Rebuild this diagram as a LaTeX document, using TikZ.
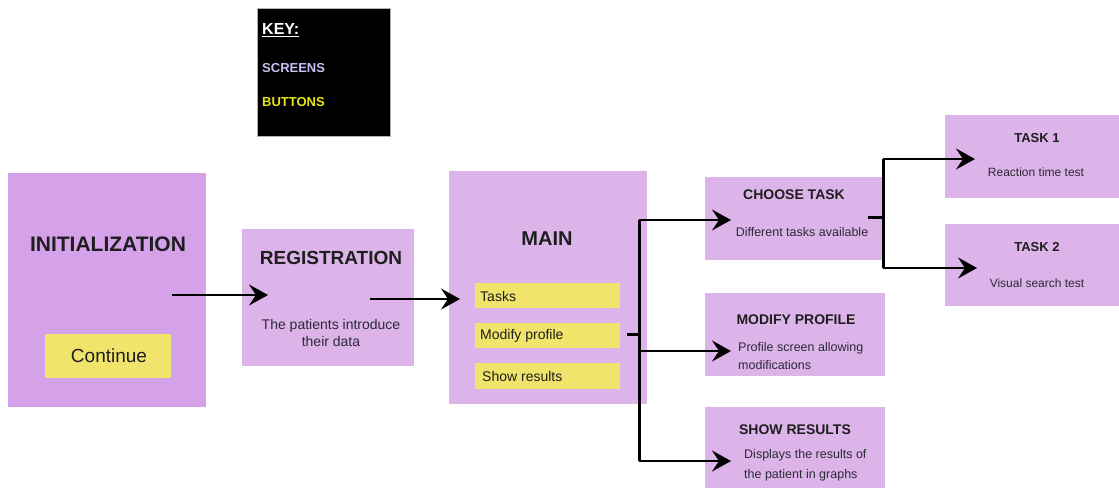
\documentclass[tikz,border=0pt]{standalone}
\usepackage{fontspec}
\setmainfont{Liberation Sans}
\usetikzlibrary{arrows.meta}

\definecolor{screenA}{HTML}{D5A1E8}
\definecolor{screenB}{HTML}{DDB4E9}
\definecolor{btnfill}{HTML}{F0E46B}
\definecolor{keyscreen}{HTML}{C9BDF2}
\definecolor{keybtn}{HTML}{E8E410}
\definecolor{titletxt}{HTML}{1E1E1E}
\definecolor{bodytxt}{HTML}{2A2A36}

\tikzset{
  screen/.style={fill=screenB, draw=none, inner sep=0pt, outer sep=0pt, anchor=north west},
  button/.style={fill=btnfill, draw=none, inner sep=0pt, outer sep=0pt, anchor=north west},
  bigtitle/.style={inner sep=0pt, text=titletxt, font=\fontsize{21}{24}\selectfont\bfseries},
  midtitle/.style={inner sep=0pt, text=titletxt, font=\fontsize{19}{22}\selectfont\bfseries},
  smalltitle/.style={inner sep=0pt, text=titletxt, font=\fontsize{14}{16}\selectfont\bfseries},
  bodytext/.style={inner sep=0pt, text=bodytxt, font=\fontsize{12.5}{18}\selectfont},
  btntext/.style={inner sep=0pt, text=titletxt, font=\fontsize{14}{16}\selectfont, anchor=west},
  keytext/.style={inner sep=0pt, anchor=west, font=\fontsize{13}{15}\selectfont\bfseries},
  conn/.style={line width=2pt, -{Stealth[length=19pt,width=21pt,inset=7pt]}},
  bus/.style={line width=3pt},
}

\begin{document}
\begin{tikzpicture}[x=1pt, y=-1pt]
  \useasboundingbox (0,0) rectangle (1119,488);

  % legend
  \node[fill=black, draw=gray!60, line width=0.6pt, inner sep=0pt, anchor=north west,
        minimum width=133pt, minimum height=128pt] (key) at (257,8) {};
  \node[keytext, text=white, font=\fontsize{16}{18}\selectfont\bfseries] (keyhead) at (262,30) {\underline{KEY:}};
  \node[keytext, text=keyscreen] (keyscr) at (262,68) {SCREENS};
  \node[keytext, text=keybtn] (keybtn) at (262,102) {BUTTONS};

  % screens
  \node[screen, fill=screenA, minimum width=198pt, minimum height=234pt] (init) at (8,173) {};
  \node[screen, minimum width=172pt, minimum height=137pt] (reg) at (242,229) {};
  \node[screen, minimum width=198pt, minimum height=233pt] (main) at (449,171) {};
  \node[screen, minimum width=180pt, minimum height=83pt] (choose) at (705,177) {};
  \node[screen, minimum width=180pt, minimum height=83pt] (modify) at (705,293) {};
  \node[screen, minimum width=180pt, minimum height=81pt] (show) at (705,407) {};
  \node[screen, minimum width=174pt, minimum height=83pt] (task1) at (945,115) {};
  \node[screen, minimum width=174pt, minimum height=82pt] (task2) at (945,224) {};

  % buttons
  \node[button, minimum width=126pt, minimum height=44pt] (cont) at (45,334) {};
  \node[button, minimum width=145pt, minimum height=25pt] (btask) at (475,283) {};
  \node[button, minimum width=145pt, minimum height=25pt] (bmod) at (475,323) {};
  \node[button, minimum width=145pt, minimum height=26pt] (bshow) at (475,363) {};

  % screen texts
  \node[bigtitle] (initT) at (108,244) {INITIALIZATION};
  \node[inner sep=0pt, text=titletxt, font=\fontsize{19}{22}\selectfont] (contT) at (109,356) {Continue};

  \node[midtitle] (regT) at (331,258) {REGISTRATION};
  \node[bodytext, font=\fontsize{14}{17}\selectfont, align=center] (regB) at (331,332.5)
       {The patients introduce\\their data};

  \node[bigtitle, font=\fontsize{20}{24}\selectfont\bfseries] (mainT) at (547,239) {MAIN};
  \node[btntext] (btaskT) at (480,296) {Tasks};
  \node[btntext] (bmodT) at (480,335.5) {Modify profile};
  \node[btntext] (bshowT) at (482,376) {Show results};

  \node[smalltitle] (chooseT) at (794,195) {CHOOSE TASK};
  \node[bodytext] (chooseB) at (802,232) {Different tasks available};

  \node[smalltitle] (modifyT) at (796,320) {MODIFY PROFILE};
  \node[bodytext, align=left, anchor=west] (modifyB) at (738,356)
       {Profile screen allowing\\modifications};

  \node[smalltitle] (showT) at (795,430) {SHOW RESULTS};
  \node[bodytext, font=\fontsize{12.5}{20}\selectfont, align=left, anchor=west] (showB) at (744,465.5)
       {Displays the results of\\the patient in graphs};

  \node[smalltitle, font=\fontsize{13}{15}\selectfont\bfseries] (task1T) at (1037,138) {TASK 1};
  \node[bodytext, font=\fontsize{12}{14}\selectfont] (task1B) at (1036,172) {Reaction time test};
  \node[smalltitle, font=\fontsize{13}{15}\selectfont\bfseries] (task2T) at (1037,247) {TASK 2};
  \node[bodytext, font=\fontsize{12}{14}\selectfont] (task2B) at (1037,283) {Visual search test};

  % connector anchor points
  \coordinate (initOut) at (172,295);
  \coordinate (regIn) at (268,295);
  \coordinate (regOut) at (370,299);
  \coordinate (mainIn) at (460,299);
  \coordinate (mainOut) at (627,334);
  \coordinate (busA) at (639,334);
  \coordinate (busATop) at (639,220);
  \coordinate (busAMid) at (639,351);
  \coordinate (busABot) at (639,461);
  \coordinate (chooseIn) at (731,220);
  \coordinate (modifyIn) at (731,351);
  \coordinate (showIn) at (731,461);
  \coordinate (chooseOut) at (868,217);
  \coordinate (busB) at (883,217);
  \coordinate (busBTop) at (883,159);
  \coordinate (busBBot) at (883,268);
  \coordinate (task1In) at (975,159);
  \coordinate (task2In) at (977,268);

  % flow
  \draw[conn] (initOut) -- (regIn);
  \draw[conn] (regOut) -- (mainIn);

  \draw[bus] (mainOut) -- (busA);
  \draw[bus] (busATop) -- (busABot);
  \draw[conn] (busATop) -- (chooseIn);
  \draw[conn] (busAMid) -- (modifyIn);
  \draw[conn] (busABot) -- (showIn);

  \draw[bus] (chooseOut) -- (busB);
  \draw[bus] (busBTop) -- (busBBot);
  \draw[conn] (busBTop) -- (task1In);
  \draw[conn] (busBBot) -- (task2In);
\end{tikzpicture}
\end{document}
